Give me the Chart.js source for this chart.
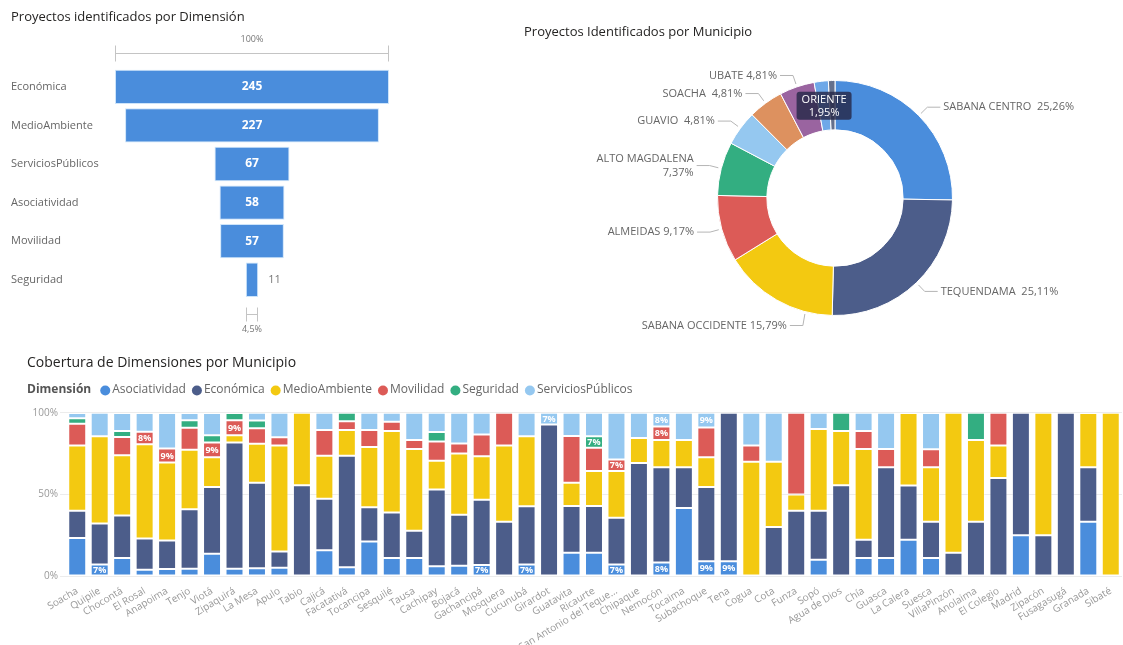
<!DOCTYPE html>
<html><head><meta charset="utf-8">
<script src="https://cdn.jsdelivr.net/npm/chart.js@4.4.1/dist/chart.umd.min.js"></script>
<style>
html,body{margin:0;padding:0;background:#fff;overflow:hidden;width:1123px;height:645px;}
.box{position:absolute;}
</style></head><body>
<div class="box" style="left:0;top:0;width:480px;height:345px"><canvas id="funnel"></canvas></div>
<div class="box" style="left:500px;top:0;width:623px;height:345px"><canvas id="donut"></canvas></div>
<div class="box" style="left:0;top:350px;width:1123px;height:295px"><canvas id="bars"></canvas></div>
<script>
// ---------- DATA ----------
const dimLabels = ['Económica','MedioAmbiente','ServiciosPúblicos','Asociatividad','Movilidad','Seguridad'];
const dimCounts = [245, 227, 67, 58, 57, 11];

const regiones = ['SABANA CENTRO ','TEQUENDAMA ','SABANA OCCIDENTE','ALMEIDAS','ALTO MAGDALENA','GUAVIO ','SOACHA ','UBATE','ORIENTE','OTROS'];
const regionPct = [25.26, 25.11, 15.79, 9.17, 7.37, 4.81, 4.81, 4.81, 1.95, 0.90];

const municipios = ['Soacha','Quipile','Chocontá','El Rosal','Anapoima','Tenjo','Viotá','Zipaquirá','La Mesa','Apulo','Tabio','Cajicá','Facatativá','Tocancipa','Sesquilé','Tausa','Cachipay','Bojacá','Gachancipá','Mosquera','Cucunubá','Girardot','Guatavita','Ricaurte','San Antonio del Tequendama','Chipaque','Nemocón','Tocaima','Subachoque','Tena','Cogua','Cota','Funza','Sopó','Agua de Dios','Chía','Guasca','La Calera','Suesca','VillaPinzón','Anolaima','El Colegio','Madrid','Zipacón','Fusagasugá','Granada','Sibaté'];
const dimensiones = ['Asociatividad','Económica','MedioAmbiente','Movilidad','Seguridad','ServiciosPúblicos'];
const asociatividad =    [23.3, 7.1,11.1, 3.8, 4.3, 4.5,13.6, 4.5, 4.8, 5.0, 0,  15.8, 5.3,21.1,11.1,11.1, 5.9, 6.25, 6.7, 0,   7.1, 0,  14.3,14.3, 7.1, 0,   8.3,41.7, 9.1, 9.1, 0,  0,  0, 10, 0,  11.1,11.1,22.2,11.1, 0,   0,  0, 25, 0,   0, 33.3, 0];
const economica =        [16.7,25.0,25.9,19.2,17.4,36.4,40.9,77.3,52.4,10.0,55.6,31.6,68.4,21.1,27.8,16.7,47.1,31.25,40.0,33.3,35.7,92.9,28.6,28.6,28.6,69.2,58.3,25.0,45.5,90.9, 0, 30, 40, 30, 55.6,11.1,55.6,33.3,22.2,14.3,33.3,60, 75, 25, 100, 33.3, 0];
const medioAmbiente =    [40.0,53.6,37.0,57.7,47.8,36.4,18.2, 4.5,23.8,65.0,44.4,26.3,15.8,36.8,50.0,50.0,17.6,37.5, 26.7,46.7,42.9, 0,  14.3,21.4,28.6,15.4,16.7,16.7,18.2, 0,  70, 40, 10, 50, 33.3,55.6, 0,  44.4,33.3,85.7,50.0,20, 0, 75,   0, 33.3,100];
const movilidad =        [13.3, 0,  11.1, 7.7, 8.7,13.6, 9.1, 9.1, 9.5, 5.0, 0,  15.8, 5.3,10.5, 5.6, 5.6,11.8, 6.25,13.3,20.0, 0,   0,  28.6,14.3, 7.1, 0,   8.3, 0,  18.2, 0,  10,  0, 50,  0,  0,  11.1,11.1, 0,  11.1, 0,   0,  20, 0,  0,   0, 0,    0];
const seguridad =        [ 3.3, 0,   3.7, 0,   0,   4.5, 4.5, 4.5, 4.8, 0,   0,   0,   5.3, 0,   0,   0,   5.9, 0,    0,   0,   0,   0,   0,   7.1, 0,   0,   0,   0,   0,   0,   0,  0,  0,  0, 11.1, 0,   0,   0,   0,   0,  16.7, 0, 0,  0,   0, 0,    0];
const serviciosPublicos =[ 3.3,14.3,11.1,11.5,21.7, 4.5,13.6, 0,   4.8,15.0, 0,  10.5, 0,  10.5, 5.6,16.7,11.8,18.75,13.3, 0,  14.3, 7.1,14.3,14.3,28.6,15.4, 8.3,16.7, 9.1, 0,  20, 30,  0, 10,  0,  11.1,22.2, 0,  22.2, 0,   0,  0, 0,  0,   0, 0,    0];
const dimSeries = [asociatividad, economica, medioAmbiente, movilidad, seguridad, serviciosPublicos];

const dimColors = ['#4A8DDC','#4C5D8A','#F3C911','#DC5B57','#33AE81','#95C8F0'];
const regionColors = ['#4A8DDC','#4C5D8A','#F3C911','#DC5B57','#33AE81','#95C8F0','#DD915F','#9A64A0','#6EA8E8','#64708C'];

// ---------- DEFAULTS ----------
const FONT = "'Open Sans', 'Noto Sans', sans-serif";
Chart.defaults.font.family = FONT;
Chart.defaults.animation = false;
Chart.defaults.responsive = true;
Chart.defaults.maintainAspectRatio = false;
Chart.defaults.plugins.legend.display = false;
Chart.defaults.plugins.tooltip.enabled = false;

// ---------- FUNNEL ----------
const maxDim = Math.max(...dimCounts);
const funnelPlugin = {
  id: 'funnelDeco',
  afterDatasetsDraw(chart) {
    const ctx = chart.ctx, xs = chart.scales.x, ca = chart.chartArea;
    const meta = chart.getDatasetMeta(0);
    ctx.save();
    ctx.strokeStyle = '#c4c4c4'; ctx.lineWidth = 1;
    const x0 = Math.round(xs.getPixelForValue(-maxDim/2)) + 0.5, x1 = Math.round(xs.getPixelForValue(maxDim/2)) - 0.5;
    const yb = Math.round(ca.top - 15) + 0.5;
    ctx.beginPath();
    ctx.moveTo(x0, yb - 8); ctx.lineTo(x0, yb + 8);
    ctx.moveTo(x1, yb - 8); ctx.lineTo(x1, yb + 8);
    ctx.moveTo(x0, yb); ctx.lineTo(x1, yb);
    ctx.stroke();
    ctx.fillStyle = '#777'; ctx.font = `9px ${FONT}`; ctx.textAlign = 'center'; ctx.textBaseline = 'middle';
    ctx.fillText('100%', (x0 + x1)/2, yb - 14);
    meta.data.forEach((bar, i) => {
      const v = dimCounts[i];
      const l = Math.min(bar.x, bar.base), r = Math.max(bar.x, bar.base);
      ctx.font = `bold 12px ${FONT}`;
      const tw = ctx.measureText(String(v)).width;
      if (r - l > tw + 10) {
        ctx.fillStyle = '#fff'; ctx.textAlign = 'center';
        ctx.fillText(String(v), (l + r)/2, bar.y);
      } else {
        ctx.font = `11px ${FONT}`;
        ctx.fillStyle = '#777'; ctx.textAlign = 'left';
        ctx.fillText(String(v), r + 10, bar.y);
      }
    });
    const last = dimCounts[dimCounts.length - 1];
    const bx0 = Math.round(xs.getPixelForValue(-last/2)) + 0.5, bx1 = Math.round(xs.getPixelForValue(last/2)) - 0.5;
    const by = Math.round(ca.bottom + 15) + 0.5;
    ctx.beginPath();
    ctx.moveTo(bx0, by - 7); ctx.lineTo(bx0, by + 7);
    ctx.moveTo(bx1, by - 7); ctx.lineTo(bx1, by + 7);
    ctx.moveTo(bx0, by); ctx.lineTo(bx1, by);
    ctx.stroke();
    ctx.fillStyle = '#777'; ctx.font = `9px ${FONT}`; ctx.textAlign = 'center';
    ctx.fillText((last / maxDim * 100).toFixed(1).replace('.', ',') + '%', (bx0 + bx1)/2, by + 15);
    ctx.restore();
  }
};
new Chart(document.getElementById('funnel'), {
  type: 'bar',
  data: { labels: dimLabels, datasets: [{ data: dimCounts.map(v => [-v/2, v/2]), backgroundColor: '#4A8DDC', borderColor: 'rgba(200,225,250,0.9)', borderWidth: 1, borderSkipped: false, barPercentage: 0.89, categoryPercentage: 1 }] },
  options: {
    indexAxis: 'y',
    layout: { padding: { left: 11, right: 91, top: 0, bottom: 46 } },
    plugins: { title: { display: true, text: 'Proyectos identificados por Dimensión', align: 'start', color: '#252423', font: { size: 13, weight: 'normal' }, padding: { top: 9, bottom: 43 } } },
    scales: {
      x: { display: false, min: -maxDim/2, max: maxDim/2 },
      y: { grid: { display: false }, border: { display: false }, ticks: { color: '#666', font: { size: 11 }, crossAlign: 'far', padding: 0 }, afterFit: s => { s.width = 104; } }
    }
  },
  plugins: [funnelPlugin]
});

// ---------- DONUT ----------
const donutPlugin = {
  id: 'donutDeco',
  afterDraw(chart) {
    const ctx = chart.ctx;
    ctx.save();
    ctx.fillStyle = '#252423'; ctx.font = `13px ${FONT}`; ctx.textBaseline = 'middle'; ctx.textAlign = 'left';
    ctx.fillText('Proyectos Identificados por Municipio', 24, 32);
    const meta = chart.getDatasetMeta(0);
    const vals = chart.data.datasets[0].data;
    meta.data.forEach((arc, i) => {
      const v = vals[i];
      const p = arc.getProps(['x','y','startAngle','endAngle','outerRadius','innerRadius'], true);
      const mid = (p.startAngle + p.endAngle) / 2;
      const cos = Math.cos(mid), sin = Math.sin(mid);
      const pct = v.toFixed(2).replace('.', ',') + '%';
      const name = chart.data.labels[i];
      const R = p.outerRadius;
      if (v >= 3) {
        let sx = p.x + (R + 3) * cos, sy = p.y + (R + 3) * sin;
        let ex = p.x + (R + 12) * cos, ey = p.y + (R + 12) * sin;
        const bottom = sin > 0.85;
        if (bottom) {
          ex = p.x + R * cos * 0.55; ey = p.y + R + 10;
          const dx = ex - p.x;
          sx = ex + 2; sy = p.y + Math.sqrt(R*R - dx*dx) + 3;
        }
        const right = cos >= 0;
        const hx = ex + (right ? 13 : -13);
        ctx.strokeStyle = '#b5b5b5'; ctx.lineWidth = 1;
        ctx.beginPath(); ctx.moveTo(sx, sy); ctx.lineTo(ex, ey); ctx.lineTo(hx, ey); ctx.stroke();
        ctx.fillStyle = '#666'; ctx.font = `11px ${FONT}`; ctx.textAlign = right ? 'left' : 'right';
        const tx = hx + (right ? 3 : -3);
        const full = name + ' ' + pct;
        if (!right && !bottom && ctx.measureText(full).width > 115) {
          ctx.fillText(name, tx, ey - 7); ctx.fillText(pct, tx, ey + 7);
        } else {
          ctx.fillText(full, tx, ey);
        }
      } else if (v >= 1.5) {
        const rm = (R + p.innerRadius) / 2;
        const bx = p.x + rm * cos, by = p.y + rm * sin;
        ctx.font = `11px ${FONT}`;
        const w = Math.max(ctx.measureText(name).width, ctx.measureText(pct).width) + 10, h = 28;
        ctx.fillStyle = 'rgba(38,40,72,0.82)';
        ctx.beginPath();
        if (ctx.roundRect) ctx.roundRect(bx - w/2, by - h/2, w, h, 3); else ctx.rect(bx - w/2, by - h/2, w, h);
        ctx.fill();
        ctx.fillStyle = '#fff'; ctx.textAlign = 'center';
        ctx.fillText(name, bx, by - 6); ctx.fillText(pct, bx, by + 7);
      }
    });
    ctx.restore();
  }
};
new Chart(document.getElementById('donut'), {
  type: 'doughnut',
  data: { labels: regiones, datasets: [{ data: regionPct, backgroundColor: regionColors, borderColor: '#ffffff', borderWidth: 1 }] },
  options: { cutout: '58%', layout: { padding: { left: 217, right: 170, top: 80, bottom: 29 } } },
  plugins: [donutPlugin]
});

// ---------- STACKED BARS ----------
const barPlugin = {
  id: 'barDeco',
  afterDatasetsDraw(chart) {
    const ctx = chart.ctx;
    ctx.save();
    ctx.font = `bold 9px ${FONT}`; ctx.fillStyle = '#fff'; ctx.textAlign = 'center'; ctx.textBaseline = 'middle';
    chart.data.datasets.forEach((ds, i) => {
      const meta = chart.getDatasetMeta(i);
      ds.data.forEach((v, j) => {
        if (v >= 6.5 && v < 9.4) {
          const el = meta.data[j];
          ctx.fillText(Math.round(v) + '%', el.x, (el.y + el.base) / 2 + 0.5);
        }
      });
    });
    ctx.restore();
  },
  afterDraw(chart) {
    const ctx = chart.ctx;
    ctx.save();
    ctx.textBaseline = 'middle'; ctx.textAlign = 'left';
    let x = 27; const y = 40;
    ctx.font = `bold 12px ${FONT}`; ctx.fillStyle = '#555';
    ctx.fillText('Dimensión', x, y);
    x += ctx.measureText('Dimensión').width + 9;
    ctx.font = `12px ${FONT}`;
    chart.data.datasets.forEach(ds => {
      ctx.fillStyle = ds.backgroundColor;
      ctx.beginPath(); ctx.arc(x + 5, y + 0.5, 5, 0, Math.PI * 2); ctx.fill();
      ctx.fillStyle = '#666';
      ctx.fillText(ds.label, x + 12, y);
      x += 12 + ctx.measureText(ds.label).width + 6;
    });
    ctx.restore();
  }
};
new Chart(document.getElementById('bars'), {
  type: 'bar',
  data: {
    labels: municipios,
    datasets: dimSeries.map((d, i) => ({ label: dimensiones[i], data: d, backgroundColor: dimColors[i], borderColor: 'rgba(255,255,255,0.35)', borderWidth: 1, borderSkipped: false, barPercentage: 0.8, categoryPercentage: 1 }))
  },
  options: {
    layout: { padding: { left: 27, right: 1, top: 0, bottom: 0 } },
    plugins: { title: { display: true, text: 'Cobertura de Dimensiones por Municipio', align: 'start', color: '#252423', font: { size: 14, weight: 'normal' }, padding: { top: 5, bottom: 41 } } },
    scales: {
      x: { stacked: true, grid: { display: false }, border: { display: false },
           ticks: { color: '#999', font: { size: 10 }, autoSkip: false, maxRotation: 31, minRotation: 31, padding: 1,
                    callback: function(v) { const l = this.getLabelForValue(v); return l.length > 22 ? l.slice(0, 21) + '...' : l; } },
           afterFit: s => { s.height = 69; } },
      y: { stacked: true, min: 0, max: 100,
           ticks: { stepSize: 50, color: '#999', font: { size: 10 }, padding: 2, callback: v => v + '%' },
           grid: { color: '#ececec', tickLength: 6 }, border: { display: false },
           afterFit: s => { s.width = 39; } }
    }
  },
  plugins: [barPlugin]
});
</script>
</body></html>
